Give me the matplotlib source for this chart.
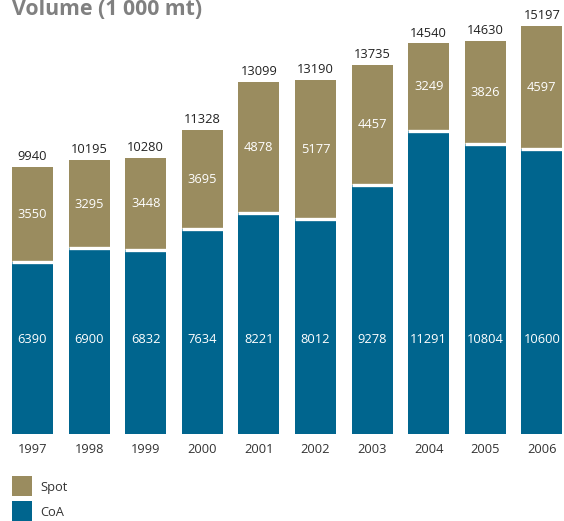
import numpy as np
import matplotlib
matplotlib.use("Agg")
import matplotlib.pyplot as plt
from matplotlib.patches import Rectangle

plt.rcParams['font.family'] = ['Open Sans', 'DejaVu Sans']

# Dados (1 000 mt)
years = ['1997', '1998', '1999', '2000', '2001', '2002', '2003', '2004', '2005', '2006']
coa = [6390, 6900, 6832, 7634, 8221, 8012, 9278, 11291, 10804, 10600]
spot = [3550, 3295, 3448, 3695, 4878, 5177, 4457, 3249, 3826, 4597]
totals = [9940, 10195, 10280, 11328, 13099, 13190, 13735, 14540, 14630, 15197]

col_spot = '#9a8c5f'
col_coa = '#00658e'
fs = 9.3

W, H = 564, 521
fig = plt.figure(figsize=(W / 100, H / 100), dpi=100)

# eixo ocupando a largura toda; base das barras em y=433.7 px
bottom_px = 433.7
pitch = 56.6
x0 = 32.5
ax = fig.add_axes([0, (H - bottom_px) / H, 1, bottom_px / H])
ax.set_xlim(-x0 / pitch, (W - x0) / pitch)
ax.set_ylim(0, bottom_px / 0.02685)
ax.axis('off')

x = np.arange(len(years))
bw = 41 / pitch
ax.bar(x, coa, width=bw, color=col_coa, linewidth=0)
ax.bar(x, spot, width=bw, bottom=coa, color=col_spot, linewidth=0)

# linha branca separando as séries
for xi, c in zip(x, coa):
    ax.plot([xi - bw / 2, xi + bw / 2], [c, c], color='white', lw=2.4, solid_capstyle='butt')

coa_label_y = 3527
for xi, c, s, t in zip(x, coa, spot, totals):
    ax.text(xi, coa_label_y, str(c), ha='center', va='center', color='white', fontsize=fs)
    ax.text(xi, c + s / 2, str(s), ha='center', va='center', color='white', fontsize=fs)
    ax.text(xi, t + 140, str(t), ha='center', va='bottom', color='#222222', fontsize=fs)
    ax.text(xi, -570, years[int(xi)], ha='center', va='center', color='#333333', fontsize=fs)

# título
fig.text(12 / W, 1 - 15 / H, 'Volume (1 000 mt)', ha='left', va='baseline',
         color='#808080', fontsize=15.3, fontweight='bold')

# legenda
for i, (lab, col) in enumerate([('Spot', col_spot), ('CoA', col_coa)]):
    top = 476 + i * 25
    fig.patches.append(Rectangle((12 / W, 1 - (top + 20) / H), 20 / W, 20 / H,
                                 transform=fig.transFigure, color=col, lw=0))
    fig.text(40 / W, 1 - (top + 12) / H, lab, ha='left', va='center',
             color='#333333', fontsize=fs)

fig.savefig('out.png', dpi=100)
